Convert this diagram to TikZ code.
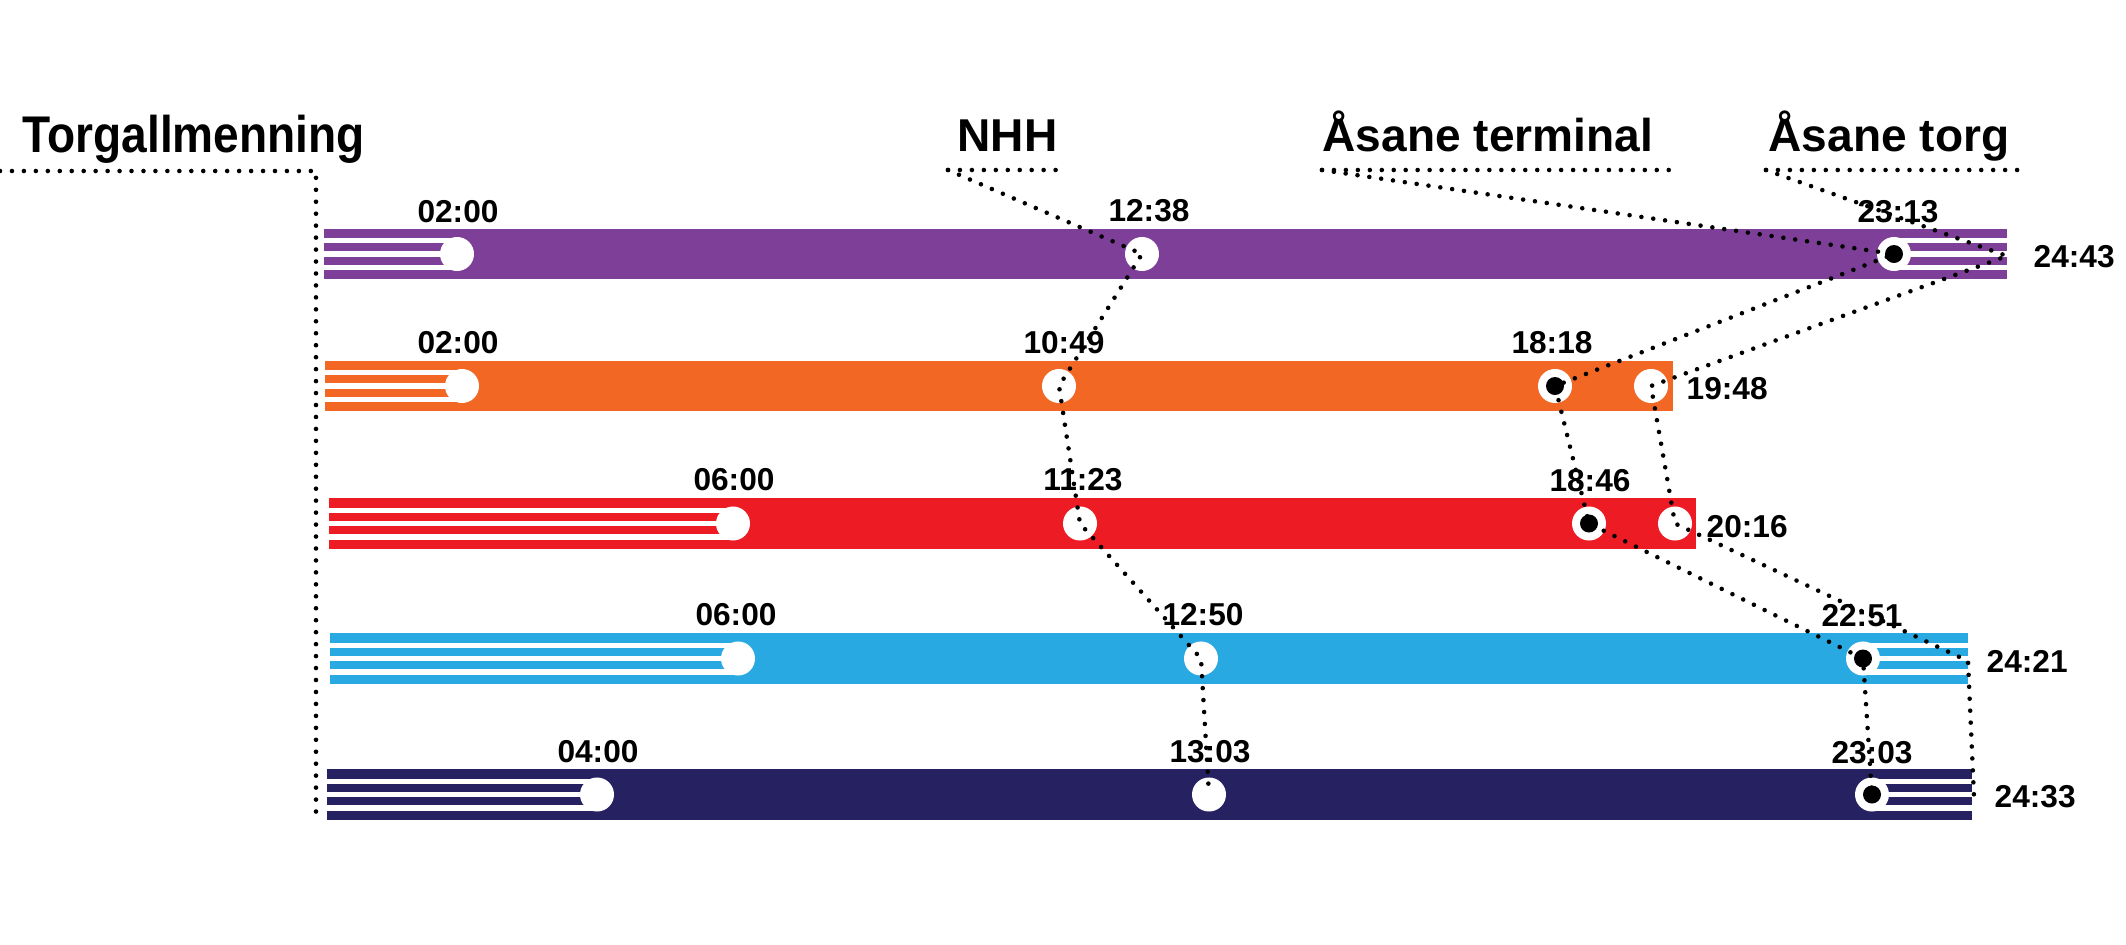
\documentclass[tikz,border=0pt]{standalone}
\usepackage{fontspec}
\setmainfont{Liberation Sans}
\definecolor{cpurple}{RGB}{125,63,152}
\definecolor{corange}{RGB}{243,103,36}
\definecolor{cred}{RGB}{237,28,36}
\definecolor{cblue}{RGB}{41,169,225}
\definecolor{cnavy}{RGB}{38,34,98}
\newcommand\barstripes[3]{%
  \foreach \o in {-13.3,0,13.3} \fill[white] (#1,{#3+\o-2.7}) rectangle (#2,{#3+\o+2.7});}
\begin{document}
\begin{tikzpicture}[x=0.01cm,y=-0.01cm,
  stopdot/.style={circle,fill=white,minimum size=0.34cm,inner sep=0pt},
  stopdark/.style={stopdot,path picture={\fill[black] (path picture bounding box.center) circle[radius=0.09cm];}},
  timelbl/.style={font=\fontsize{9}{10}\selectfont\bfseries,inner sep=0pt,anchor=base},
  endlbl/.style={timelbl,anchor=base west},
  stationlbl/.style={font=\fontsize{13.1}{15}\selectfont\bfseries,inner sep=0pt,anchor=base west},
  dotline/.style={line width=1.3pt,line cap=round,dash pattern=on 0pt off 3.4pt},
]
\useasboundingbox (0,0) rectangle (2126,945);

% bars
\fill[cpurple] (324,229) rectangle (2007,279);
\fill[corange] (325,361) rectangle (1673,411);
\fill[cred]    (329,498) rectangle (1696,549);
\fill[cblue]   (330,633) rectangle (1968,684);
\fill[cnavy]   (327,769) rectangle (1972,820);

% stripes
\barstripes{324}{457}{254}
\barstripes{1894}{2007}{254}
\barstripes{325}{462}{386}
\barstripes{329}{733}{523.5}
\barstripes{330}{738}{658.5}
\barstripes{1863}{1968}{658.5}
\barstripes{327}{597}{794.5}
\barstripes{1872}{1972}{794.5}

% stops
\node[stopdot]  (p1a) at (457,254) {};
\node[stopdot]  (p1b) at (1142,254) {};
\node[stopdark] (p1c) at (1894,254) {};
\node[stopdot]  (p2a) at (462,386) {};
\node[stopdot]  (p2b) at (1059,386) {};
\node[stopdark] (p2c) at (1555,386) {};
\node[stopdot]  (p2d) at (1651,386) {};
\node[stopdot]  (p3a) at (733,523.5) {};
\node[stopdot]  (p3b) at (1080,523.5) {};
\node[stopdark] (p3c) at (1589,523.5) {};
\node[stopdot]  (p3d) at (1675,523.5) {};
\node[stopdot]  (p4a) at (738,658.5) {};
\node[stopdot]  (p4b) at (1201,658.5) {};
\node[stopdark] (p4c) at (1863,658.5) {};
\node[stopdot]  (p5a) at (597,794.5) {};
\node[stopdot]  (p5b) at (1209,794.5) {};
\node[stopdark] (p5c) at (1872,794.5) {};

% station labels
\node[stationlbl] (torg) at (22,152) {\scalebox{1}[1.12]{Torgallmenning}};
\node[stationlbl] (nhh) at (957,151) {NHH};
\node[stationlbl] (aterm) at (1322,151) {Åsane terminal};
\node[stationlbl] (atorg) at (1768,151) {Åsane torg};

% time labels
\node[timelbl] (l1a) at (458,222) {02:00};
\node[timelbl] (l1b) at (1149,221) {12:38};
\node[timelbl] (l1c) at (1898,222) {23:13};
\node[endlbl]  (l1d) at (2033,267) {24:43};
\node[timelbl] (l2a) at (458,353) {02:00};
\node[timelbl] (l2b) at (1064,353) {10:49};
\node[timelbl] (l2c) at (1552,353) {18:18};
\node[endlbl]  (l2d) at (1686,399) {19:48};
\node[timelbl] (l3a) at (734,490) {06:00};
\node[timelbl] (l3b) at (1083,490) {11:23};
\node[timelbl] (l3c) at (1590,491) {18:46};
\node[endlbl]  (l3d) at (1706,537) {20:16};
\node[timelbl] (l4a) at (736,625) {06:00};
\node[timelbl] (l4b) at (1203,625) {12:50};
\node[timelbl] (l4c) at (1862,626) {22:51};
\node[endlbl]  (l4d) at (1986,672) {24:21};
\node[timelbl] (l5a) at (598,762) {04:00};
\node[timelbl] (l5b) at (1210,762) {13:03};
\node[timelbl] (l5c) at (1872,763) {23:03};
\node[endlbl]  (l5d) at (1994,807) {24:33};

% coordinates for connector ends
\coordinate (t0) at (0,171);
\coordinate (t1) at (316,171);
\coordinate (t2) at (316,822);
\coordinate (n0) at (948,170);
\coordinate (n1) at (1060,170);
\coordinate (a0) at (1322,170);
\coordinate (a1) at (1674,170);
\coordinate (b0) at (1766,170);
\coordinate (b1) at (2026,170);
\coordinate (e1) at (2007,256);
\coordinate (e4) at (1968,661);
\coordinate (e5) at (1974,797);

% dotted connectors
\draw[dotline] (t0) -- (t1) -- (t2);
\draw[dotline] (n0) -- (n1);
\draw[dotline] (n0) -- (p1b.center) -- (p2b.center) -- (p3b.center) -- (p4b.center) -- (p5b.center);
\draw[dotline] (a0) -- (a1);
\draw[dotline] (a0) -- (p1c.center) -- (p2c.center) -- (p3c.center) -- (p4c.center) -- (p5c.center);
\draw[dotline] (b0) -- (b1);
\draw[dotline] (b0) -- (e1) -- (p2d.center) -- (p3d.center) -- (e4) -- (e5);
\end{tikzpicture}
\end{document}
